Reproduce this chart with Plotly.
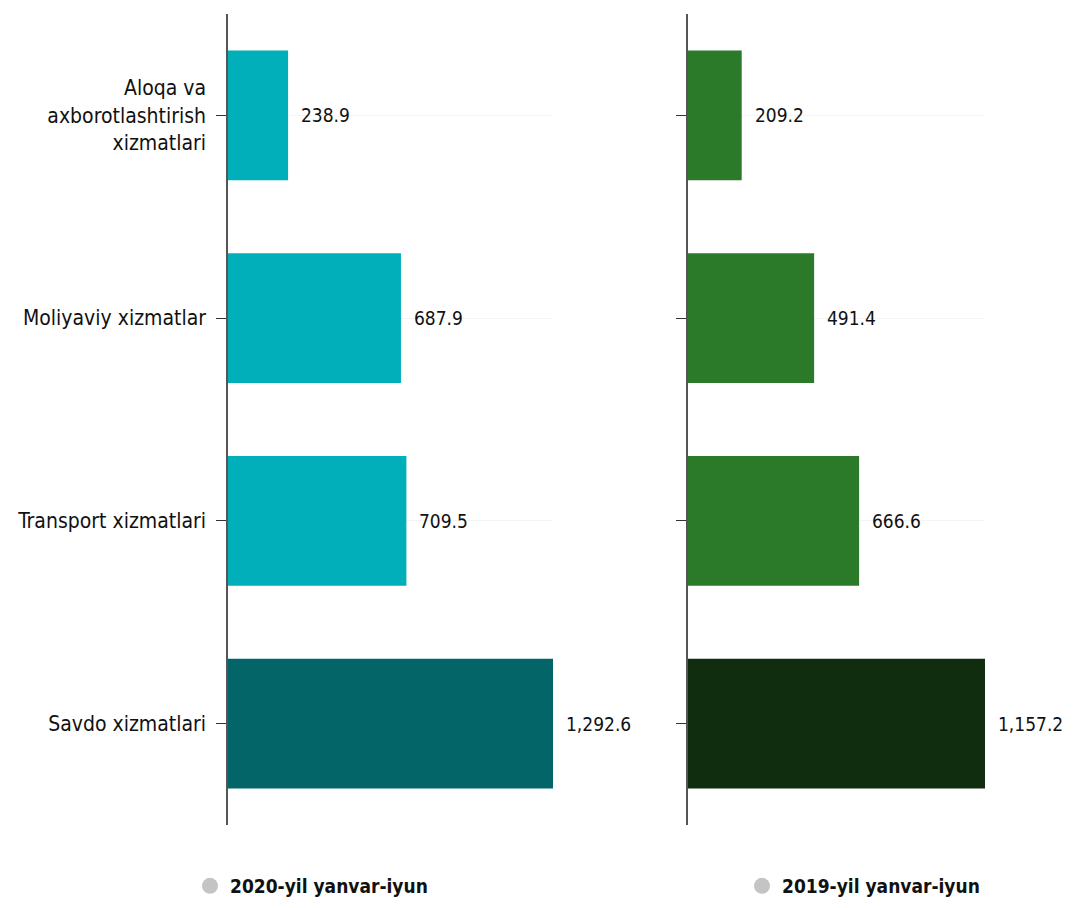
import plotly.graph_objects as go

categories = ["Aloqa va<br>axborotlashtirish<br>xizmatlari", "Moliyaviy xizmatlar",
              "Transport xizmatlari", "Savdo xizmatlari"]
values_2020 = [238.9, 687.9, 709.5, 1292.6]
values_2019 = [209.2, 491.4, 666.6, 1157.2]
colors_2020 = ["#00AFB9", "#00AFB9", "#00AFB9", "#036567"]
colors_2019 = ["#2A7A2A", "#2A7A2A", "#2A7A2A", "#112D10"]
series_names = ["2020-yil yanvar-iyun", "2019-yil yanvar-iyun"]

FONT = "DejaVu Sans Condensed, DejaVu Sans, sans-serif"
OFF = 8                      # page body margin
W, H = 1073 - 2 * OFF, 908 - 2 * OFF

def px(x):
    return (x - OFF) / W

def py(y):
    return 1 - (y - OFF) / H

def fmt(v):
    return f"{v:,.1f}"

def fnt(size, weight="normal"):
    return dict(family=FONT, size=size, color="#111", weight=weight)

fig = go.Figure()
fig.add_trace(go.Bar(y=categories, x=values_2020, orientation="h", marker_color=colors_2020,
                     marker_line_width=0, width=0.64, xaxis="x", yaxis="y", showlegend=False,
                     hoverinfo="x+y"))
fig.add_trace(go.Bar(y=categories, x=values_2019, orientation="h", marker_color=colors_2019,
                     marker_line_width=0, width=0.64, xaxis="x2", yaxis="y2", showlegend=False,
                     hoverinfo="x+y"))

fig.add_trace(go.Scatter(x=[None], y=[None], mode="markers", name=series_names[0],
                         marker=dict(color="#C4C4C4", size=16), legend="legend",
                         xaxis="x", yaxis="y"))
fig.add_trace(go.Scatter(x=[None], y=[None], mode="markers", name=series_names[1],
                         marker=dict(color="#C4C4C4", size=16), legend="legend2",
                         xaxis="x2", yaxis="y2"))

annotations = []
for c, v in zip(categories, values_2020):
    annotations.append(dict(x=v, y=c, xref="x", yref="y", text=fmt(v), showarrow=False,
                            xanchor="left", xshift=11, font=fnt(19)))
for c, v in zip(categories, values_2019):
    annotations.append(dict(x=v, y=c, xref="x2", yref="y2", text=fmt(v), showarrow=False,
                            xanchor="left", xshift=11, font=fnt(19)))

ydom = [py(825), py(14)]
yaxis_common = dict(categoryorder="array", categoryarray=categories, autorange=False,
                    range=[3.5, -0.5], showline=True, linecolor="#555", linewidth=1.5,
                    ticks="outside", ticklen=10, tickcolor="#333", tickwidth=1.2,
                    showgrid=True, gridcolor="#F4F4F4", gridwidth=1, zeroline=False,
                    domain=ydom, automargin=False)

fig.update_layout(
    width=W, height=H,
    margin=dict(l=0, r=0, t=0, b=0, autoexpand=False),
    paper_bgcolor="white", plot_bgcolor="white",
    font=fnt(21),
    xaxis=dict(domain=[px(228), px(553)], range=[0, 1292.6], visible=False, anchor="y",
               automargin=False),
    xaxis2=dict(domain=[px(688), px(985)], range=[0, 1157.2], visible=False, anchor="y2",
                automargin=False),
    yaxis=dict(**yaxis_common, anchor="x", showticklabels=True, ticklabelstandoff=6,
               tickfont=fnt(21)),
    yaxis2=dict(**yaxis_common, anchor="x2", showticklabels=False),
    legend=dict(x=px(190), y=py(886), xanchor="left", yanchor="middle",
                font=fnt(19, "bold"), bgcolor="rgba(0,0,0,0)"),
    legend2=dict(x=px(742), y=py(886), xanchor="left", yanchor="middle",
                 font=fnt(19, "bold"), bgcolor="rgba(0,0,0,0)"),
    annotations=annotations,
)

fig.write_html("out.html")
